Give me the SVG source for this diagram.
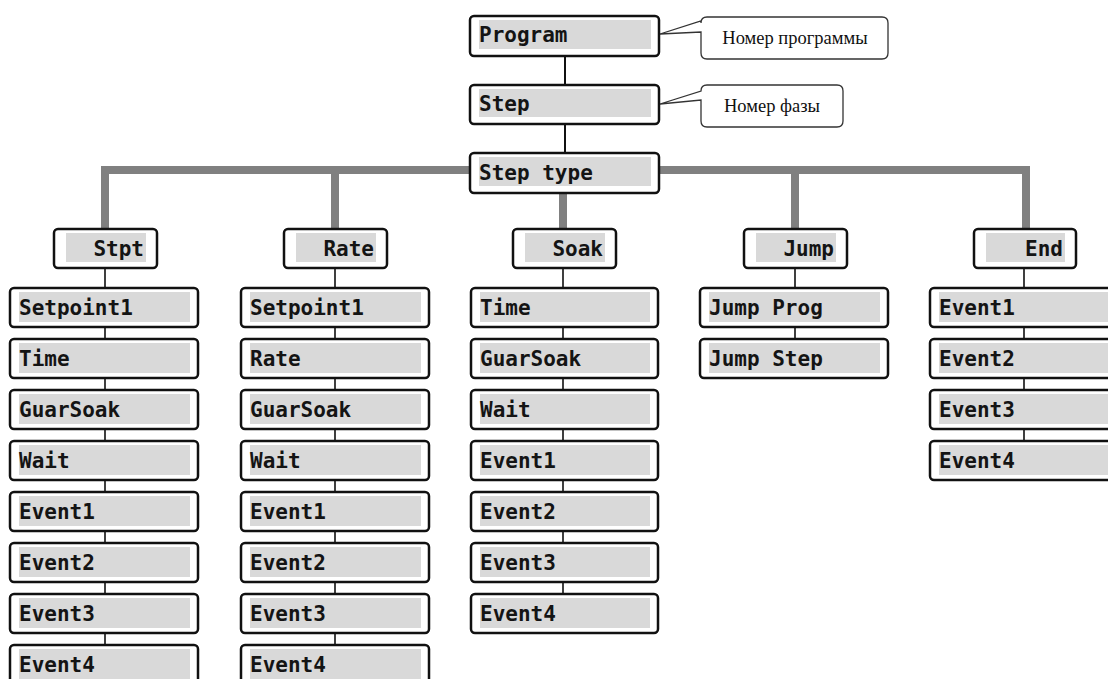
<svg xmlns="http://www.w3.org/2000/svg" width="1108" height="679" viewBox="0 0 1108 679">
<style>
.box{fill:#fff;stroke:#111;stroke-width:2.5}
.fill{fill:#d9d9d9}
.t{font-family:"DejaVu Sans Mono","Liberation Mono",monospace;font-weight:bold;font-size:21px;fill:#141414}
.te{text-anchor:end}
.bus{fill:none;stroke:#808080;stroke-width:8}
.thin{stroke:#111;stroke-width:2;fill:none}
.thin2{stroke:#111;stroke-width:1.6;fill:none}
.call{fill:#fff;stroke:#333;stroke-width:1.3}
.ct{font-family:"Liberation Serif","Times New Roman",serif;font-size:18.5px;fill:#111;text-anchor:middle}
</style>
<rect width="1108" height="679" fill="#fff"/>
<g id="connectors">
<path class="bus" d="M105,229 V170 H1026 V229"/>
<path class="bus" d="M335,170 V229 M563,170 V229 M795,170 V229"/>
<path class="thin" d="M565,56 V85 M565,124 V153"/>
<path class="thin2" d="M105,268 V645 M335,268 V645 M563,268 V594 M795,268 V339 M1024,268 V441"/>
</g>
<g id="callout-program">
<path class="call" d="M707,17 H882 Q888,17 888,23 V53 Q888,59 882,59 H707 Q701,59 701,53 V32 L660,34 L701,21 V23 Q701,17 707,17 Z"/>
<text class="ct" x="795" y="44">Номер программы</text>
</g>
<g id="callout-step">
<path class="call" d="M707,85 H837 Q843,85 843,91 V121 Q843,127 837,127 H707 Q701,127 701,121 V100 L660,104 L701,91 Q701,85 707,85 Z"/>
<text class="ct" x="772" y="112">Номер фазы</text>
</g>
<g id="program"><rect class="box" x="470" y="16" width="189" height="40" rx="4"/><rect class="fill" x="479" y="20" width="172" height="29"/><text class="t" x="479" y="42">Program</text></g>
<g id="step"><rect class="box" x="470" y="85" width="189" height="39" rx="4"/><rect class="fill" x="479" y="89" width="172" height="28"/><text class="t" x="479" y="111">Step</text></g>
<g id="steptype"><rect class="box" x="470" y="153" width="189" height="40" rx="4"/><rect class="fill" x="479" y="157" width="172" height="29"/><text class="t" x="479" y="180">Step type</text></g>

<g id="stpt"><rect class="box" x="54" y="229" width="103" height="39" rx="4"/><rect class="fill" x="66" y="233" width="80" height="29"/><text class="t te" x="144" y="256">Stpt</text></g>
<g id="rate"><rect class="box" x="284" y="229" width="103" height="39" rx="4"/><rect class="fill" x="296" y="233" width="80" height="29"/><text class="t te" x="374" y="256">Rate</text></g>
<g id="soak"><rect class="box" x="513" y="229" width="103" height="39" rx="4"/><rect class="fill" x="525" y="233" width="80" height="29"/><text class="t te" x="603" y="256">Soak</text></g>
<g id="jump"><rect class="box" x="744" y="229" width="103" height="39" rx="4"/><rect class="fill" x="756" y="233" width="80" height="29"/><text class="t te" x="834" y="256">Jump</text></g>
<g id="end"><rect class="box" x="974" y="229" width="102" height="39" rx="4"/><rect class="fill" x="986" y="233" width="79" height="29"/><text class="t te" x="1063" y="256">End</text></g>

<g id="stpt-setpoint1"><rect class="box" x="10" y="288" width="188" height="39" rx="4"/><rect class="fill" x="19" y="292" width="171" height="30"/><text class="t" x="19" y="315">Setpoint1</text></g>
<g id="stpt-time"><rect class="box" x="10" y="339" width="188" height="39" rx="4"/><rect class="fill" x="19" y="343" width="171" height="30"/><text class="t" x="19" y="366">Time</text></g>
<g id="stpt-guarsoak"><rect class="box" x="10" y="390" width="188" height="39" rx="4"/><rect class="fill" x="19" y="394" width="171" height="30"/><text class="t" x="19" y="417">GuarSoak</text></g>
<g id="stpt-wait"><rect class="box" x="10" y="441" width="188" height="39" rx="4"/><rect class="fill" x="19" y="445" width="171" height="30"/><text class="t" x="19" y="468">Wait</text></g>
<g id="stpt-event1"><rect class="box" x="10" y="492" width="188" height="39" rx="4"/><rect class="fill" x="19" y="496" width="171" height="30"/><text class="t" x="19" y="519">Event1</text></g>
<g id="stpt-event2"><rect class="box" x="10" y="543" width="188" height="39" rx="4"/><rect class="fill" x="19" y="547" width="171" height="30"/><text class="t" x="19" y="570">Event2</text></g>
<g id="stpt-event3"><rect class="box" x="10" y="594" width="188" height="39" rx="4"/><rect class="fill" x="19" y="598" width="171" height="30"/><text class="t" x="19" y="621">Event3</text></g>
<g id="stpt-event4"><rect class="box" x="10" y="645" width="188" height="39" rx="4"/><rect class="fill" x="19" y="649" width="171" height="30"/><text class="t" x="19" y="672">Event4</text></g>

<g id="rate-setpoint1"><rect class="box" x="241" y="288" width="188" height="39" rx="4"/><rect class="fill" x="250" y="292" width="171" height="30"/><text class="t" x="250" y="315">Setpoint1</text></g>
<g id="rate-rate"><rect class="box" x="241" y="339" width="188" height="39" rx="4"/><rect class="fill" x="250" y="343" width="171" height="30"/><text class="t" x="250" y="366">Rate</text></g>
<g id="rate-guarsoak"><rect class="box" x="241" y="390" width="188" height="39" rx="4"/><rect class="fill" x="250" y="394" width="171" height="30"/><text class="t" x="250" y="417">GuarSoak</text></g>
<g id="rate-wait"><rect class="box" x="241" y="441" width="188" height="39" rx="4"/><rect class="fill" x="250" y="445" width="171" height="30"/><text class="t" x="250" y="468">Wait</text></g>
<g id="rate-event1"><rect class="box" x="241" y="492" width="188" height="39" rx="4"/><rect class="fill" x="250" y="496" width="171" height="30"/><text class="t" x="250" y="519">Event1</text></g>
<g id="rate-event2"><rect class="box" x="241" y="543" width="188" height="39" rx="4"/><rect class="fill" x="250" y="547" width="171" height="30"/><text class="t" x="250" y="570">Event2</text></g>
<g id="rate-event3"><rect class="box" x="241" y="594" width="188" height="39" rx="4"/><rect class="fill" x="250" y="598" width="171" height="30"/><text class="t" x="250" y="621">Event3</text></g>
<g id="rate-event4"><rect class="box" x="241" y="645" width="188" height="39" rx="4"/><rect class="fill" x="250" y="649" width="171" height="30"/><text class="t" x="250" y="672">Event4</text></g>

<g id="soak-time"><rect class="box" x="471" y="288" width="187" height="39" rx="4"/><rect class="fill" x="480" y="292" width="170" height="30"/><text class="t" x="480" y="315">Time</text></g>
<g id="soak-guarsoak"><rect class="box" x="471" y="339" width="187" height="39" rx="4"/><rect class="fill" x="480" y="343" width="170" height="30"/><text class="t" x="480" y="366">GuarSoak</text></g>
<g id="soak-wait"><rect class="box" x="471" y="390" width="187" height="39" rx="4"/><rect class="fill" x="480" y="394" width="170" height="30"/><text class="t" x="480" y="417">Wait</text></g>
<g id="soak-event1"><rect class="box" x="471" y="441" width="187" height="39" rx="4"/><rect class="fill" x="480" y="445" width="170" height="30"/><text class="t" x="480" y="468">Event1</text></g>
<g id="soak-event2"><rect class="box" x="471" y="492" width="187" height="39" rx="4"/><rect class="fill" x="480" y="496" width="170" height="30"/><text class="t" x="480" y="519">Event2</text></g>
<g id="soak-event3"><rect class="box" x="471" y="543" width="187" height="39" rx="4"/><rect class="fill" x="480" y="547" width="170" height="30"/><text class="t" x="480" y="570">Event3</text></g>
<g id="soak-event4"><rect class="box" x="471" y="594" width="187" height="39" rx="4"/><rect class="fill" x="480" y="598" width="170" height="30"/><text class="t" x="480" y="621">Event4</text></g>

<g id="jump-prog"><rect class="box" x="700" y="288" width="188" height="39" rx="4"/><rect class="fill" x="709" y="292" width="171" height="30"/><text class="t" x="709" y="315">Jump Prog</text></g>
<g id="jump-step"><rect class="box" x="700" y="339" width="188" height="39" rx="4"/><rect class="fill" x="709" y="343" width="171" height="30"/><text class="t" x="709" y="366">Jump Step</text></g>

<g id="end-event1"><rect class="box" x="930" y="288" width="188" height="39" rx="4"/><rect class="fill" x="939" y="292" width="171" height="30"/><text class="t" x="939" y="315">Event1</text></g>
<g id="end-event2"><rect class="box" x="930" y="339" width="188" height="39" rx="4"/><rect class="fill" x="939" y="343" width="171" height="30"/><text class="t" x="939" y="366">Event2</text></g>
<g id="end-event3"><rect class="box" x="930" y="390" width="188" height="39" rx="4"/><rect class="fill" x="939" y="394" width="171" height="30"/><text class="t" x="939" y="417">Event3</text></g>
<g id="end-event4"><rect class="box" x="930" y="441" width="188" height="39" rx="4"/><rect class="fill" x="939" y="445" width="171" height="30"/><text class="t" x="939" y="468">Event4</text></g>
</svg>
